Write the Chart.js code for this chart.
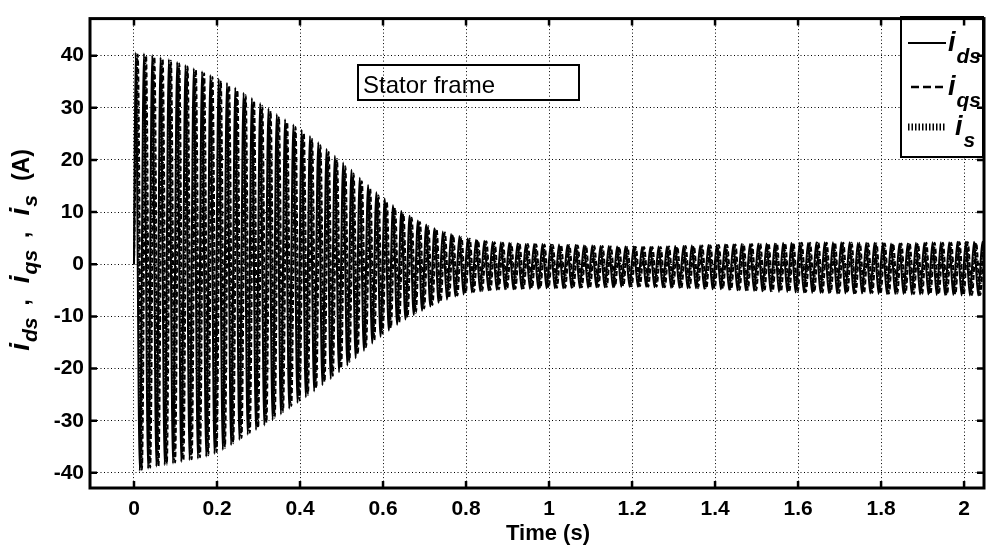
<!DOCTYPE html>
<html lang="en">
<head>
<meta charset="UTF-8" />
<title>Stator frame currents</title>
<script src="https://cdn.jsdelivr.net/npm/chart.js"></script>
<style>
  html, body { margin: 0; padding: 0; background: #fff; }
  #wrap { width: 986px; height: 551px; }
</style>
</head>
<body>
<div id="wrap"><canvas id="chart" width="986" height="551"></canvas></div>
<script>
  // axis ticks
  const xTicks = [0, 0.2, 0.4, 0.6, 0.8, 1, 1.2, 1.4, 1.6, 1.8, 2];
  const yTicks = [-40, -30, -20, -10, 0, 10, 20, 30, 40];

  // 50 Hz supply -> one peak every half period
  const halfPeriod = 0.01;
  const idsStart = 0.004;
  const isStart = 0.0065;
  const iqsStart = 0.009;

  // successive peaks (+,-,+,-...)
  const idsPeaks = [
    40.6,-39.6, 40.4,-39.2, 40.1,-38.8, 39.7,-38.5, 39.3,-38.2, 38.8,-37.9, 38.2,-37.6, 37.6,-37.3, 37.0,-36.9, 36.3,-36.4,
    35.6,-35.6, 34.8,-34.7, 33.9,-33.7, 32.9,-32.7, 31.9,-31.8, 30.9,-30.9, 29.9,-29.9, 28.8,-28.8, 27.8,-27.7, 26.8,-26.6,
    25.8,-25.5, 24.6,-24.4, 23.4,-23.2, 22.1,-22.0, 20.8,-20.7, 19.5,-19.4, 18.1,-18.0, 16.6,-16.6, 15.2,-15.2, 13.8,-13.9,
    12.6,-12.7, 11.3,-11.6, 10.2,-10.6, 9.3,-9.7, 8.4,-8.9, 7.6,-8.1, 6.9,-7.4, 6.3,-6.8, 5.8,-6.2, 5.4,-5.8,
    5.0,-5.4, 4.7,-5.2, 4.5,-5.0, 4.3,-4.9, 4.2,-4.8, 4.1,-4.8, 4.0,-4.7, 3.9,-4.7, 3.9,-4.7, 3.9,-4.6,
    3.8,-4.6, 3.8,-4.6, 3.7,-4.5, 3.7,-4.5, 3.6,-4.5, 3.6,-4.4, 3.5,-4.4, 3.5,-4.4, 3.4,-4.3, 3.4,-4.3,
    3.4,-4.3, 3.3,-4.3, 3.3,-4.4, 3.4,-4.4, 3.4,-4.5, 3.5,-4.5, 3.5,-4.6, 3.6,-4.6, 3.6,-4.7, 3.7,-4.8,
    3.7,-4.8, 3.8,-4.9, 3.8,-5.0, 3.9,-5.0, 3.9,-5.1, 4.0,-5.2, 4.0,-5.2, 4.0,-5.3, 4.1,-5.3, 4.1,-5.4,
    4.1,-5.4, 4.1,-5.5, 4.2,-5.5, 4.2,-5.5, 4.2,-5.6, 4.2,-5.6, 4.2,-5.6, 4.1,-5.6, 4.1,-5.6, 4.1,-5.7,
    4.1,-5.7, 4.0,-5.7, 4.0,-5.7, 4.0,-5.8, 4.1,-5.8, 4.1,-5.8, 4.2,-5.9, 4.2,-5.9, 4.2,-5.9, 4.3,-6.0,
    4.3,-6.0, 4.3,-6.0, 4.3,-6.0
  ];
  const iqsPeaks = [
    40.2,-39.4, 40.0,-39.0, 39.8,-38.7, 39.4,-38.4, 39.0,-38.0, 38.5,-37.7, 37.9,-37.4, 37.3,-37.0, 36.6,-36.6, 35.9,-36.0,
    35.2,-35.2, 34.3,-34.3, 33.4,-33.3, 32.4,-32.3, 31.4,-31.4, 30.4,-30.4, 29.4,-29.4, 28.3,-28.3, 27.3,-27.2, 26.3,-26.1,
    25.2,-25.0, 24.0,-23.8, 22.8,-22.6, 21.5,-21.4, 20.2,-20.0, 18.8,-18.7, 17.4,-17.3, 15.9,-15.9, 14.5,-14.6, 13.2,-13.3,
    12.0,-12.2, 10.8,-11.1, 9.8,-10.2, 8.9,-9.3, 8.1,-8.5, 7.3,-7.8, 6.7,-7.1, 6.1,-6.5, 5.6,-6.0, 5.2,-5.6,
    4.9,-5.3, 4.6,-5.1, 4.4,-4.9, 4.2,-4.8, 4.1,-4.7, 4.0,-4.7, 3.9,-4.6, 3.9,-4.6, 3.8,-4.6, 3.8,-4.5,
    3.7,-4.5, 3.7,-4.5, 3.7,-4.4, 3.6,-4.4, 3.6,-4.4, 3.5,-4.3, 3.5,-4.3, 3.4,-4.3, 3.4,-4.2, 3.3,-4.2,
    3.3,-4.2, 3.3,-4.3, 3.3,-4.3, 3.3,-4.4, 3.4,-4.4, 3.4,-4.5, 3.5,-4.5, 3.5,-4.6, 3.6,-4.6, 3.6,-4.7,
    3.7,-4.7, 3.7,-4.8, 3.8,-4.9, 3.8,-4.9, 3.9,-5.0, 3.9,-5.1, 4.0,-5.1, 4.0,-5.2, 4.0,-5.2, 4.0,-5.3,
    4.1,-5.3, 4.1,-5.4, 4.1,-5.4, 4.1,-5.4, 4.1,-5.5, 4.1,-5.5, 4.1,-5.5, 4.1,-5.5, 4.0,-5.5, 4.0,-5.6,
    4.0,-5.6, 4.0,-5.6, 4.0,-5.6, 4.0,-5.7, 4.0,-5.7, 4.1,-5.7, 4.1,-5.8, 4.1,-5.8, 4.1,-5.8, 4.2,-5.9,
    4.2,-5.9, 4.2,-5.9, 4.2,-5.9
  ];
  const isPeaks = [
    39.9,-39.0, 39.6,-38.6, 39.3,-38.2, 38.9,-37.9, 38.4,-37.6, 37.9,-37.2, 37.3,-36.9, 36.7,-36.5, 36.0,-36.1, 35.3,-35.5,
    34.5,-34.7, 33.7,-33.8, 32.8,-32.8, 31.8,-31.8, 30.8,-30.9, 29.8,-29.9, 28.8,-28.9, 27.8,-27.8, 26.7,-26.7, 25.7,-25.6,
    24.6,-24.5, 23.4,-23.3, 22.2,-22.1, 20.9,-20.8, 19.6,-19.5, 18.2,-18.2, 16.8,-16.8, 15.4,-15.4, 14.0,-14.1, 12.8,-12.9,
    11.6,-11.8, 10.5,-10.8, 9.5,-9.9, 8.6,-9.0, 7.8,-8.3, 7.1,-7.6, 6.5,-6.9, 6.0,-6.4, 5.5,-5.9, 5.1,-5.5,
    4.8,-5.2, 4.5,-5.0, 4.3,-4.9, 4.1,-4.8, 4.0,-4.7, 3.9,-4.7, 3.9,-4.6, 3.8,-4.6, 3.8,-4.6, 3.7,-4.5,
    3.7,-4.5, 3.6,-4.5, 3.6,-4.4, 3.6,-4.4, 3.5,-4.4, 3.5,-4.3, 3.4,-4.3, 3.4,-4.3, 3.3,-4.2, 3.3,-4.2,
    3.3,-4.2, 3.2,-4.2, 3.2,-4.3, 3.3,-4.3, 3.3,-4.4, 3.4,-4.4, 3.4,-4.5, 3.5,-4.5, 3.5,-4.6, 3.6,-4.6,
    3.6,-4.7, 3.7,-4.8, 3.7,-4.8, 3.8,-4.9, 3.8,-5.0, 3.9,-5.0, 3.9,-5.1, 3.9,-5.1, 4.0,-5.2, 4.0,-5.2,
    4.0,-5.3, 4.0,-5.3, 4.1,-5.4, 4.1,-5.4, 4.1,-5.4, 4.1,-5.5, 4.1,-5.5, 4.0,-5.5, 4.0,-5.5, 4.0,-5.5,
    4.0,-5.6, 3.9,-5.6, 3.9,-5.6, 3.9,-5.6, 4.0,-5.7, 4.0,-5.7, 4.1,-5.7, 4.1,-5.8, 4.1,-5.8, 4.2,-5.8,
    4.2,-5.9, 4.2,-5.9, 4.2,-5.9
  ];

  function toPoints(peaks, t0) {
    const pts = [{x: 0, y: 0}];
    peaks.forEach((v, i) => pts.push({x: +(t0 + i * halfPeriod).toFixed(4), y: v}));
    return pts;
  }

  const FONT = '"Liberation Sans", Arial, sans-serif';

  // text with subscripts, drawn left to right; {gap} adds blank space
  function partsWidth(ctx, parts) {
    let w = 0;
    parts.forEach(p => {
      if (p.gap) { w += p.gap; return; }
      ctx.font = p.f; w += ctx.measureText(p.t).width;
    });
    return w;
  }
  function drawParts(ctx, parts, x, y) {
    parts.forEach(p => {
      if (p.gap) { x += p.gap; return; }
      ctx.font = p.f;
      ctx.fillText(p.t, x, y + (p.dy || 0));
      x += ctx.measureText(p.t).width;
    });
  }

  const iFont = 'italic bold 28px ' + FONT;
  const subFont = 'italic bold 21px ' + FONT;
  const plainFont = 'bold 23px ' + FONT;

  const decor = {
    id: 'decor',
    afterDatasetsDraw(chart) {
      const {ctx, chartArea: a, scales: {x, y}} = chart;
      ctx.save();
      ctx.fillStyle = '#000';
      ctx.strokeStyle = '#000';

      // "Stator frame" box
      ctx.lineWidth = 2;
      ctx.strokeRect(358, 65, 221, 35);
      ctx.font = '24px ' + FONT;
      ctx.textBaseline = 'alphabetic';
      ctx.fillText('Stator frame', 363, 93);

      // legend box
      ctx.fillStyle = '#fff';
      ctx.fillRect(901, 17, 82, 140);
      ctx.fillStyle = '#000';
      ctx.lineWidth = 2;
      ctx.strokeRect(901, 17, 82, 140);
      const rows = [
        {yy: 43, dash: [], lw: 2, x0: 908, sub: 'ds', ix: 948},
        {yy: 87, dash: [8, 4], lw: 2.4, x0: 911, sub: 'qs', ix: 948},
        {yy: 127, dash: [1.5, 2], lw: 7, x0: 908, sub: 's', ix: 955}
      ];
      rows.forEach(r => {
        ctx.beginPath();
        ctx.setLineDash(r.dash);
        ctx.lineWidth = r.lw;
        ctx.moveTo(r.x0, r.yy);
        ctx.lineTo(946, r.yy);
        ctx.stroke();
        ctx.setLineDash([]);
        drawParts(ctx, [{t: 'i', f: 'italic bold 27px ' + FONT}, {gap: 1}, {t: r.sub, f: 'italic bold 21px ' + FONT, dy: 12}], r.ix, r.yy + 8);
      });

      // frame
      ctx.lineWidth = 3;
      ctx.strokeRect(a.left, a.top, a.right - a.left, a.bottom - a.top);

      // inward tick marks
      ctx.lineWidth = 2.5;
      ctx.beginPath();
      xTicks.forEach(v => {
        const px = x.getPixelForValue(v);
        ctx.moveTo(px, a.bottom); ctx.lineTo(px, a.bottom - 7);
        ctx.moveTo(px, a.top); ctx.lineTo(px, a.top + 7);
      });
      yTicks.forEach(v => {
        const py = y.getPixelForValue(v);
        ctx.moveTo(a.left, py); ctx.lineTo(a.left + 7, py);
        ctx.moveTo(a.right, py); ctx.lineTo(a.right - 7, py);
      });
      ctx.stroke();

      // x axis title
      ctx.font = 'bold 22px ' + FONT;
      ctx.textAlign = 'center';
      ctx.fillText('Time (s)', 548, 540);
      ctx.textAlign = 'left';

      // y axis title, rotated
      const parts = [
        {t: 'i', f: iFont}, {gap: 1}, {t: 'ds', f: subFont, dy: 8}, {gap: 12}, {t: ',', f: plainFont}, {gap: 16},
        {t: 'i', f: iFont}, {gap: 1}, {t: 'qs', f: subFont, dy: 8}, {gap: 12}, {t: ',', f: plainFont}, {gap: 16},
        {t: 'i', f: iFont}, {gap: 1}, {t: 's', f: subFont, dy: 8}, {gap: 14}, {t: '(A)', f: plainFont}
      ];
      const w = partsWidth(ctx, parts);
      ctx.translate(29, 250);
      ctx.rotate(-Math.PI / 2);
      drawParts(ctx, parts, -w / 2, 0);
      ctx.restore();
    }
  };

  const lineStyle = {
    borderColor: '#000',
    borderWidth: 2,
    pointRadius: 0,
    fill: false,
    cubicInterpolationMode: 'monotone'
  };

  new Chart(document.getElementById('chart'), {
    type: 'line',
    data: {
      datasets: [
        Object.assign({label: 'ids', data: toPoints(idsPeaks, idsStart)}, lineStyle),
        Object.assign({label: 'iqs', data: toPoints(iqsPeaks, iqsStart), borderDash: [5, 3]}, lineStyle),
        Object.assign({label: 'is', data: toPoints(isPeaks, isStart), borderDash: [1.5, 1.5]}, lineStyle)
      ]
    },
    options: {
      responsive: false,
      animation: false,
      devicePixelRatio: 1,
      layout: { padding: { left: 0, top: 11, right: 2, bottom: 0 } },
      plugins: { legend: { display: false }, tooltip: { enabled: false } },
      scales: {
        x: {
          type: 'linear',
          min: -0.106,
          max: 2.048,
          afterBuildTicks: s => { s.ticks = xTicks.map(v => ({value: v})); },
          afterFit: s => { s.height = 63; },
          grid: { color: '#000', lineWidth: 1, drawTicks: false },
          border: { display: false, dash: [1, 2.5] },
          ticks: {
            color: '#000',
            padding: 9,
            maxRotation: 0,
            font: { family: FONT, size: 21, weight: 'bold' },
            callback: v => String(+v.toFixed(1))
          }
        },
        y: {
          min: -42.9,
          max: 47.1,
          afterBuildTicks: s => { s.ticks = yTicks.map(v => ({value: v})); },
          afterFit: s => { s.width = 90; },
          grid: { color: '#000', lineWidth: 1, drawTicks: false },
          border: { display: false, dash: [1, 2.5] },
          ticks: {
            color: '#000',
            padding: 6,
            font: { family: FONT, size: 21, weight: 'bold' }
          }
        }
      }
    },
    plugins: [decor]
  });
</script>
</body>
</html>
